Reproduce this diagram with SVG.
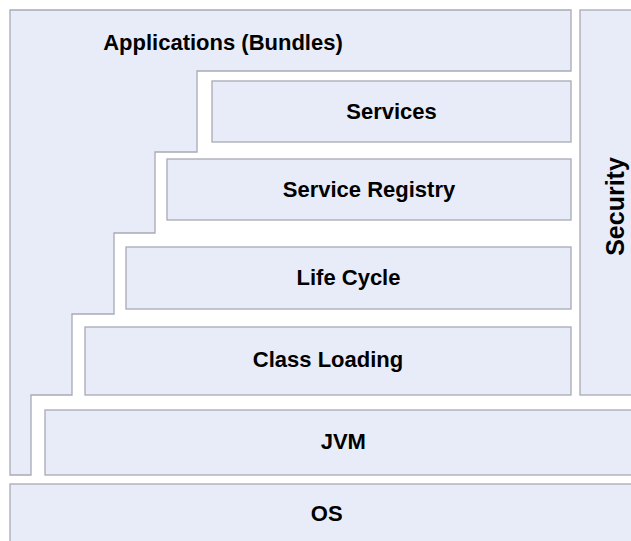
<svg xmlns="http://www.w3.org/2000/svg" width="631" height="541" viewBox="0 0 631 541">
<style>
.box{fill:#e8ecf8;stroke:#a8aab4;stroke-width:1.3}
.lbl{font-family:"Liberation Sans",Arial,sans-serif;font-weight:bold;font-size:22px;fill:#000;text-anchor:middle}
</style>
<rect width="631" height="541" fill="#ffffff"/>
<g id="applications">
<polygon class="box" points="10,10 571,10 571,71 197,71 197,152 155,152 155,233 114,233 114,314 72,314 72,395 31,395 31,475 10,475"/>
<text class="lbl" x="223" y="50">Applications (Bundles)</text>
</g>
<g id="services">
<rect class="box" x="212" y="81" width="359" height="61"/>
<text class="lbl" x="391.5" y="119">Services</text>
</g>
<g id="service-registry">
<rect class="box" x="167" y="159" width="404" height="61"/>
<text class="lbl" x="369" y="197">Service Registry</text>
</g>
<g id="life-cycle">
<rect class="box" x="126" y="247" width="445" height="62"/>
<text class="lbl" x="348.5" y="285">Life Cycle</text>
</g>
<g id="class-loading">
<rect class="box" x="85" y="327" width="486" height="68"/>
<text class="lbl" x="328" y="367">Class Loading</text>
</g>
<g id="security">
<rect class="box" x="580" y="10" width="60" height="385"/>
<text class="lbl" x="0" y="0" style="font-size:25px" transform="translate(624,206.5) rotate(-90)">Security</text>
</g>
<g id="jvm">
<rect class="box" x="45" y="410" width="600" height="65"/>
<text class="lbl" x="343.3" y="448.5">JVM</text>
</g>
<g id="os">
<rect class="box" x="10" y="484" width="640" height="70"/>
<text class="lbl" x="326.7" y="521">OS</text>
</g>
<g id="connectors"></g>
</svg>
